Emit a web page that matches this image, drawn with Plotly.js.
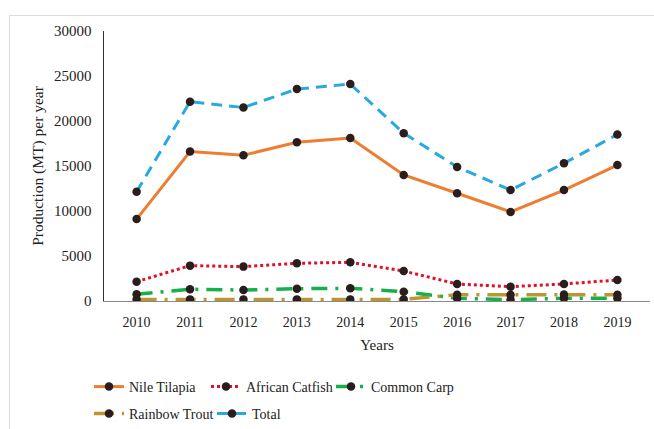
<!DOCTYPE html>
<html>
<head>
<meta charset="utf-8">
<script src="https://cdn.plot.ly/plotly-3.0.1.min.js"></script>
<style>
html,body{margin:0;padding:0;background:#fff;}
#frame{position:absolute;left:9px;top:15px;width:645px;height:414px;border-top:1px solid #ddd;border-left:1px solid #ddd;}
#chart{position:absolute;left:0;top:0;width:654px;height:429px;}
</style>
</head>
<body>
<div id="frame"></div>
<div id="chart"></div>
<script>
const years = ['2010','2011','2012','2013','2014','2015','2016','2017','2018','2019'];
const nileTilapia = [9100, 16600, 16200, 17630, 18100, 14000, 11970, 9900, 12330, 15100];
const africanCatfish = [2150, 3930, 3820, 4190, 4300, 3330, 1890, 1590, 1890, 2330];
const commonCarp = [740, 1300, 1220, 1370, 1410, 1040, 300, 150, 300, 300];
const rainbowTrout = [180, 180, 180, 180, 180, 180, 700, 700, 720, 700];
const total = [12150, 22150, 21500, 23550, 24100, 18650, 14900, 12330, 15300, 18500];

const FAM = '"Liberation Serif", "Times New Roman", serif';
const mk = {color:'#2a1d1b', size:8.5};
const traces = [
  {name:'Nile Tilapia', y:nileTilapia, line:{color:'#ED7D31', width:3, dash:'solid'}, legend:'legend'},
  {name:'African Catfish', y:africanCatfish, line:{color:'#E0102A', width:3, dash:'dot'}, legend:'legend2'},
  {name:'Common Carp', y:commonCarp, line:{color:'#13B04B', width:3.5, dash:'16px,8px,3px,8px'}, legend:'legend3'},
  {name:'Rainbow Trout', y:rainbowTrout, line:{color:'#BF9433', width:3.5, dash:'20px,8px,3px,8px'}, legend:'legend4'},
  {name:'Total', y:total, line:{color:'#2AA8DF', width:3, dash:'11px,7px'}, legend:'legend5'}
].map(t => Object.assign({x:years, type:'scatter', mode:'lines+markers', marker:mk}, t));

const legFont = {family:FAM, size:14, color:'#222'};
function leg(px, py) {
  return {orientation:'h', xref:'container', yref:'container', x:(px-6)/654, xanchor:'left',
          y:1-py/429, yanchor:'middle', font:legFont, bgcolor:'rgba(0,0,0,0)', itemwidth:30};
}
const layout = {
  width:654, height:429,
  margin:{l:104, r:4, t:31, b:128},
  paper_bgcolor:'rgba(0,0,0,0)', plot_bgcolor:'rgba(0,0,0,0)',
  font: {family:FAM, size:14, color:'#222'},
  showlegend:true,
  xaxis:{type:'category', showgrid:false, zeroline:false, showline:true, linecolor:'#888', linewidth:1,
         ticks:'', ticklabelstandoff:8, tickfont:{family:FAM, size:14, color:'#222'}, automargin:false,
         title:{text:'Years', font:{family:FAM, size:15, color:'#222'}, standoff:10}},
  yaxis:{range:[0,30000], showgrid:false, zeroline:false, showline:true, linecolor:'#333', linewidth:1.5,
         ticks:'', ticklabelstandoff:8, tickvals:[0,5000,10000,15000,20000,25000,30000], tickformat:'d', automargin:false,
         tickfont:{family:FAM, size:15, color:'#222'},
         title:{text:'Production (MT) per year', font:{family:FAM, size:15.5, color:'#222'}, standoff:6}},
  legend: leg(95, 387),
  legend2: leg(212, 387),
  legend3: leg(337, 387),
  legend4: leg(95, 414),
  legend5: leg(218, 414)
};
Plotly.newPlot('chart', traces, layout, {displayModeBar:false, staticPlot:true});
</script>
</body>
</html>
